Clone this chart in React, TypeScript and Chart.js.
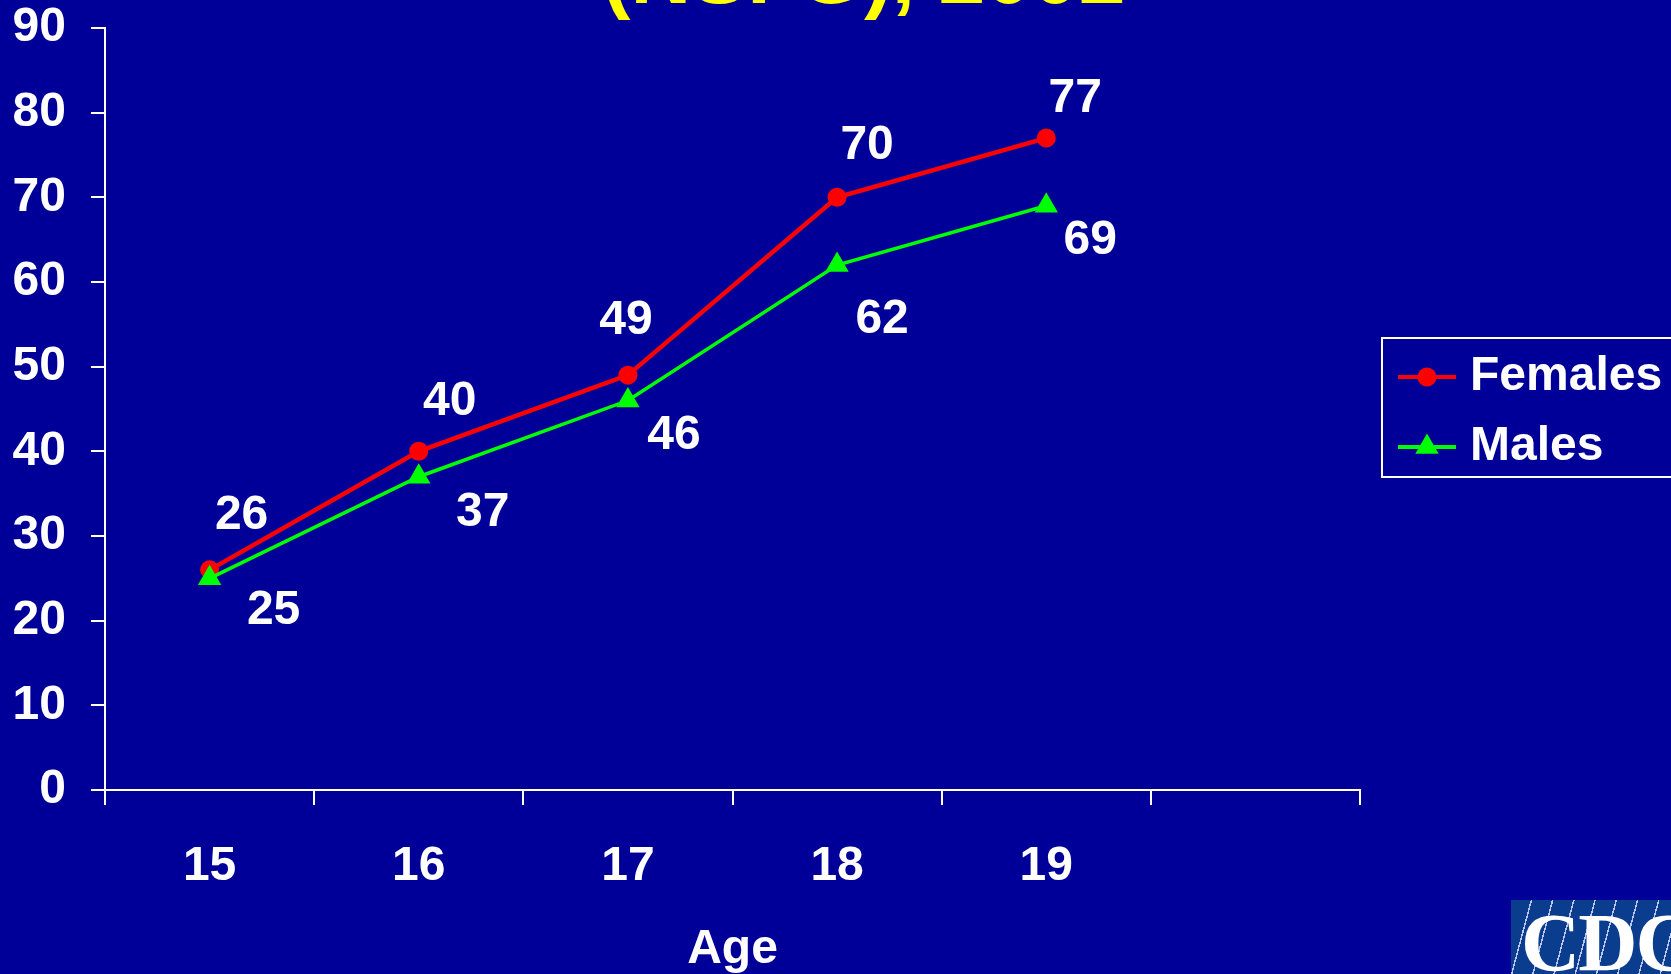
import React, { useEffect, useRef } from "react";
import { Chart, registerables } from "chart.js";

Chart.register(...registerables);

// ---- Data ----
const categories: string[] = ["15", "16", "17", "18", "19", ""];
const seriesNames: string[] = ["Females", "Males"];
const femalesValues: (number | null)[] = [26, 40, 49, 70, 77, null];
const malesValues: (number | null)[] = [25, 37, 46, 62, 69, null];
const yMin = 0;
const yMax = 90;
const yStep = 10;
const titleText = "(NSFG), 2002";
const xAxisTitle = "Age";

// ---- Styling / layout config ----
const BG = "#000099";
const FONT = "'Liberation Sans', Arial, Helvetica, sans-serif";
const FONT_SIZE = 48;
// label nudges relative to each point (px)
const femaleLabelNudge = [
  [32, -54],
  [31, -50],
  [-2, -54],
  [30, -52],
  [29, -39],
];
const maleLabelNudge = [
  [64, 32],
  [64, 36],
  [46, 35],
  [45, 55],
  [44, 35],
];

const dataLabelPlugin = {
  id: "dataLabels",
  afterDatasetsDraw(chart: any) {
    const ctx = chart.ctx;
    ctx.save();
    ctx.fillStyle = "#ffffff";
    ctx.font = `bold ${FONT_SIZE}px ${FONT}`;
    ctx.textAlign = "center";
    ctx.textBaseline = "middle";
    chart.data.datasets.forEach((ds: any, di: number) => {
      const meta = chart.getDatasetMeta(di);
      const nudges = di === 0 ? femaleLabelNudge : maleLabelNudge;
      meta.data.forEach((pt: any, i: number) => {
        const v = ds.data[i];
        if (v === null || v === undefined) return;
        const n = nudges[i] || [0, 0];
        ctx.fillText(String(v), pt.x + n[0], pt.y + n[1]);
      });
    });
    ctx.restore();
  },
};

const legendPlugin = {
  id: "customLegend",
  afterDraw(chart: any) {
    const ctx = chart.ctx;
    ctx.save();
    const boxLeft = 1382;
    const boxTop = 338;
    const boxBottom = 477;
    ctx.strokeStyle = "#ffffff";
    ctx.lineWidth = 2;
    ctx.strokeRect(boxLeft, boxTop, 400, boxBottom - boxTop);
    const rows = [377, 447];
    chart.data.datasets.forEach((ds: any, di: number) => {
      const y = rows[di];
      ctx.strokeStyle = ds.borderColor;
      ctx.lineWidth = 4;
      ctx.beginPath();
      ctx.moveTo(1398, y);
      ctx.lineTo(1456, y);
      ctx.stroke();
      ctx.fillStyle = ds.pointBackgroundColor;
      ctx.beginPath();
      if (ds.pointStyle === "triangle") {
        const r = ds.pointRadius;
        ctx.moveTo(1427, y - r);
        ctx.lineTo(1427 + r * 0.866, y + r * 0.5);
        ctx.lineTo(1427 - r * 0.866, y + r * 0.5);
        ctx.closePath();
      } else {
        ctx.arc(1427, y, ds.pointRadius, 0, Math.PI * 2);
      }
      ctx.fill();
      ctx.fillStyle = "#ffffff";
      ctx.font = `bold ${FONT_SIZE}px ${FONT}`;
      ctx.textAlign = "left";
      ctx.textBaseline = "middle";
      ctx.fillText(ds.label, 1470, y);
    });
    ctx.restore();
  },
};

export default function App() {
  const canvasRef = useRef<HTMLCanvasElement | null>(null);

  useEffect(() => {
    if (!canvasRef.current) return;
    const chart = new Chart(canvasRef.current, {
      type: "line",
      data: {
        labels: categories,
        datasets: [
          {
            label: seriesNames[0],
            data: femalesValues,
            borderColor: "#ff0000",
            backgroundColor: "#ff0000",
            pointBackgroundColor: "#ff0000",
            pointBorderColor: "#ff0000",
            pointBorderWidth: 0,
            pointStyle: "circle",
            pointRadius: 9.5,
            borderWidth: 4.5,
            tension: 0,
            order: 1,
          } as any,
          {
            label: seriesNames[1],
            data: malesValues,
            borderColor: "#00ff00",
            backgroundColor: "#00ff00",
            pointBackgroundColor: "#00ff00",
            pointBorderColor: "#00ff00",
            pointBorderWidth: 0,
            pointStyle: "triangle",
            pointRadius: 13.5,
            borderWidth: 3.5,
            tension: 0,
            order: 0,
          } as any,
        ],
      },
      options: {
        animation: false,
        responsive: true,
        maintainAspectRatio: false,
        layout: { padding: { left: 0, right: 311, top: 28, bottom: 0 } },
        plugins: {
          legend: { display: false },
          tooltip: { enabled: false },
          title: { display: false },
        },
        scales: {
          x: {
            type: "category",
            offset: true,
            grid: {
              display: true,
              drawOnChartArea: false,
              drawTicks: true,
              tickLength: 15,
              color: "#ffffff",
              lineWidth: 2,
              offset: true,
            },
            border: { display: true, color: "#ffffff", width: 2 },
            ticks: {
              color: "#ffffff",
              font: { size: FONT_SIZE, weight: "bold", family: FONT },
              padding: 33,
              maxRotation: 0,
              autoSkip: false,
            },
            title: {
              display: true,
              text: xAxisTitle,
              color: "#ffffff",
              font: { size: FONT_SIZE, weight: "bold", family: FONT, lineHeight: 1.0 },
              padding: { top: 0, bottom: 0 },
            },
            afterFit(scale: any) {
              scale.height = 184;
              scale.paddingLeft = 0;
              scale.paddingRight = 0;
            },
          } as any,
          y: {
            min: yMin,
            max: yMax,
            grid: {
              display: true,
              drawOnChartArea: false,
              drawTicks: true,
              tickLength: 14,
              color: "#ffffff",
              lineWidth: 2,
            },
            border: { display: true, color: "#ffffff", width: 2 },
            ticks: {
              stepSize: yStep,
              color: "#ffffff",
              font: { size: FONT_SIZE, weight: "bold", family: FONT },
              padding: 25,
            },
            afterFit(scale: any) {
              scale.width = 105;
              scale.paddingTop = 0;
              scale.paddingBottom = 0;
            },
          } as any,
        },
      },
      plugins: [dataLabelPlugin, legendPlugin],
    });
    return () => chart.destroy();
  }, []);

  return (
    <div
      style={{
        position: "fixed",
        left: 0,
        top: 0,
        width: 1671,
        height: 974,
        background: BG,
        overflow: "hidden",
      }}
    >
      <canvas ref={canvasRef} style={{ position: "absolute", left: 0, top: 0 }} />
      <div
        style={{
          position: "absolute",
          left: 0,
          width: 1728,
          top: -68,
          height: 84,
          lineHeight: "84px",
          fontFamily: FONT,
          fontWeight: "bold",
          fontSize: 84,
          color: "#ffff00",
          textAlign: "center",
          whiteSpace: "nowrap",
        }}
      >
        {titleText}
      </div>
      <div
        style={{
          position: "absolute",
          left: 1511,
          top: 900,
          width: 200,
          height: 110,
          background:
            "repeating-linear-gradient(105deg, #0b3d8f 0px, #0b3d8f 19px, rgba(220,230,255,0.85) 19px, rgba(220,230,255,0.85) 20.5px)",
          overflow: "hidden",
        }}
      >
        <span
          style={{
            position: "absolute",
            left: 10,
            top: 2,
            fontFamily: "'Liberation Serif', 'Times New Roman', serif",
            fontWeight: "bold",
            fontSize: 82,
            lineHeight: "82px",
            color: "#ffffff",
            letterSpacing: -2,
          }}
        >
          CDC
        </span>
      </div>
    </div>
  );
}
